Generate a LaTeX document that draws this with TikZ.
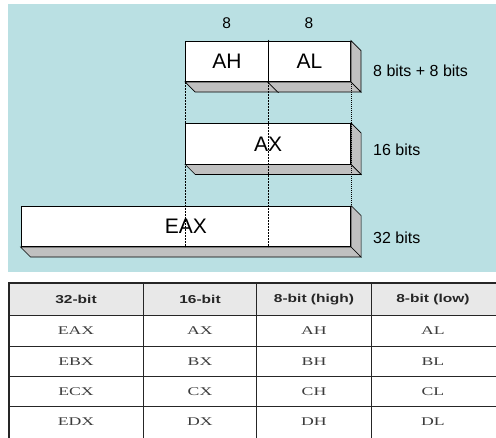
\documentclass[tikz,border=0pt]{standalone}
\usepackage{fontspec}
\setmainfont{Liberation Serif}
\setsansfont{Liberation Sans}
\usetikzlibrary{positioning}

\definecolor{regbg}{RGB}{186,224,227}
\definecolor{regside}{RGB}{192,192,192}
\definecolor{headfill}{RGB}{232,232,232}
\definecolor{celltext}{RGB}{60,60,60}

% side and bottom face of a register bar
\newcommand{\barfaces}[1]{%
  \draw[fill=regside,line width=0.7pt] (#1.north east) -- ++(10,10) -- ([shift={(10,10)}]#1.south east) -- (#1.south east) -- cycle;
  \draw[fill=regside,line width=0.7pt] (#1.south west) -- ++(10,10) -- ([shift={(10,10)}]#1.south east) -- (#1.south east) -- cycle;}
\newcommand{\widen}[2]{\scalebox{#1}[1]{#2}}

\begin{document}
\begin{tikzpicture}[x=1pt,y=-1pt]
  \tikzset{reg/.style = {draw,fill=white,line width=0.8pt,inner sep=0pt,minimum height=40.7pt,font=\sffamily\fontsize{21}{25}\selectfont}}
  \tikzset{bitnum/.style = {inner sep=0pt,font=\sffamily\fontsize{15.5}{18}\selectfont}}
  \tikzset{size/.style = {anchor=west,inner sep=0pt,font=\sffamily\fontsize{16}{19}\selectfont}}
  \tikzset{guide/.style = {line width=0.6pt,dash pattern=on 2pt off 1pt}}
  \tikzset{head/.style = {inner sep=0pt,text=black!85,font=\sffamily\bfseries\fontsize{11.5}{14}\selectfont}}
  \tikzset{cell/.style = {inner sep=0pt,text=celltext,font=\fontsize{11.8}{14}\selectfont}}
  \tikzset{rule/.style = {line width=1.2pt,draw=black!85}}

\fill[regbg] (8,4) rectangle (496,272.5);
\useasboundingbox (0,0) rectangle (496,438);

\node[reg,minimum width=82.3pt] (ah) at (226.85,61.35) {AH};
\barfaces{ah}
\node[reg,minimum width=82.3pt] (al) at (309.35,61.35) {AL};
\barfaces{al}
\node[reg,minimum width=165pt] (ax) at (268.2,143.8) {AX};
\barfaces{ax}
\node[reg,minimum width=329.7pt] (eax) at (185.85,226.35) {EAX};
\barfaces{eax}

\node[bitnum] (nh) at (226.7,23) {8};
\node[bitnum] (nl) at (309,23) {8};

\node[size] (s8) at (373,71) {8 bits + 8 bits};
\node[size] (s16) at (373,150) {16 bits};
\node[size] (s32) at (373,237.5) {32 bits};

\draw[guide] (ah.south west) -- (ah.south west |- eax.south);
\draw[guide] (ah.south east) -- (ah.south east |- eax.south);
\draw[line width=0.6pt,dash pattern=on 1pt off 1pt] (al.south east) -- (al.south east |- eax.north);

% table
\fill[headfill] (9,283.3) rectangle (497,315.7);
\foreach \y in {315.7,346.7,376.7,406.7}
  \draw[rule] (9,\y) -- (497,\y);
\draw[line width=2pt,draw=black!85] (9,283.3) -- (497,283.3);
\foreach \x in {9,143.3,256.7,371.7}
  \draw[rule] (\x,282.3) -- (\x,440);

\foreach \cx/\t [count=\i] in {76/32-bit,200/16-bit,314/8-bit (high),433/8-bit (low)}
  \node[head] (col\i) at (\cx,299.5) {\widen{1.35}{\t}};

\foreach \g/\cy in {A/331,B/361.7,C/391.7,D/421.7} {
  \node[cell] (e\g) at (76,\cy) {\widen{1.5}{E\g X}};
  \node[cell] (x\g) at (200,\cy) {\widen{1.5}{\g X}};
  \node[cell] (h\g) at (314,\cy) {\widen{1.5}{\g H}};
  \node[cell] (l\g) at (433,\cy) {\widen{1.5}{\g L}};
}

\end{tikzpicture}
\end{document}
